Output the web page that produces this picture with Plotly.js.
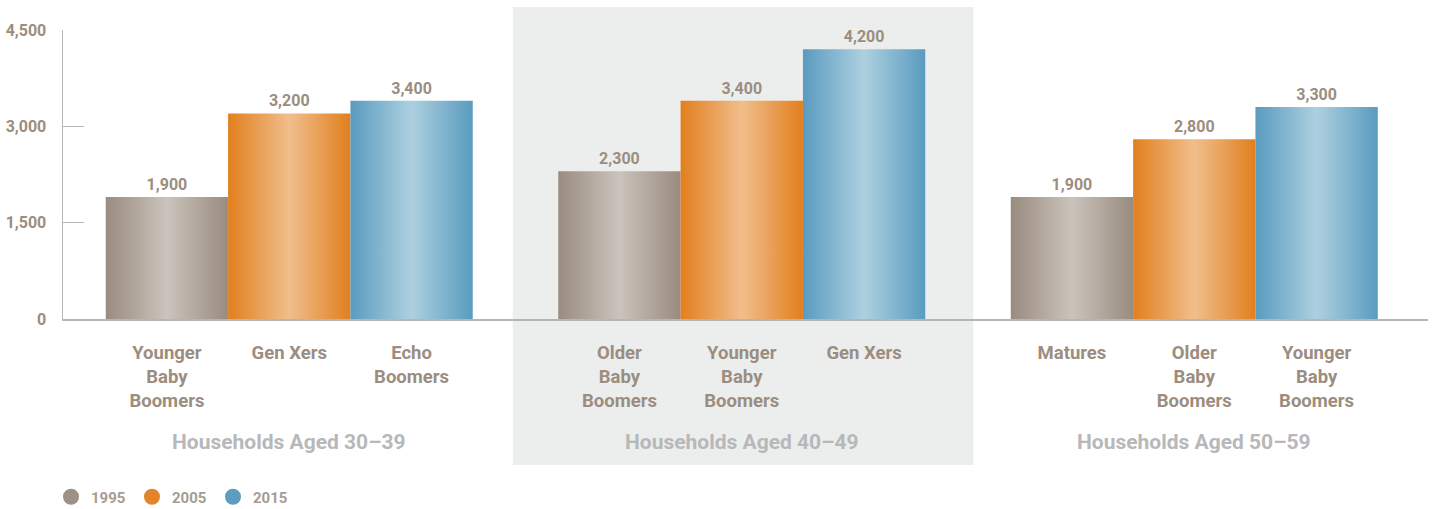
<!DOCTYPE html>
<html>
<head>
<meta charset="utf-8">
<script src="https://cdn.plot.ly/plotly-3.0.1.min.js"></script>
<style>
html,body{margin:0;padding:0;background:#fff;}
#chart{width:1432px;height:509px;}
</style>
</head>
<body>
<div id="chart"></div>
<script>
// ---- data ----
const groups = ['Households Aged 30\u201339', 'Households Aged 40\u201349', 'Households Aged 50\u201359'];
const years = ['1995', '2005', '2015'];
const values1995 = [1900, 2300, 1900];
const values2005 = [3200, 3400, 2800];
const values2015 = [3400, 4200, 3300];
const labels1995 = ['Younger<br>Baby<br>Boomers', 'Older<br>Baby<br>Boomers', 'Matures'];
const labels2005 = ['Gen Xers', 'Younger<br>Baby<br>Boomers', 'Older<br>Baby<br>Boomers'];
const labels2015 = ['Echo<br>Boomers', 'Gen Xers', 'Younger<br>Baby<br>Boomers'];
const yTickValues = [0, 1500, 3000, 4500];

// ---- styles ----
const FONT = 'Roboto, "DejaVu Sans Condensed", sans-serif';
const TEXT = '#9b8d80';
const AXIS = '#b5b5b5';
const seriesValues = [values1995, values2005, values2015];
const seriesLabels = [labels1995, labels2005, labels2015];
const solid = ['#9d9085', '#e4832a', '#5c9dc0'];
const grad = [
  ['#998b7f', '#cbc3bc', '#998b7f'],
  ['#e27f1e', '#f0be8c', '#e27f1e'],
  ['#5a9bbf', '#add0e0', '#5a9bbf']
];
const BARGAP = 0.189;
const barW = (1 - BARGAP) / 3;
const xPos = groups.map((g, i) => i);

const data = [];
seriesValues.forEach((vals, i) => {
  data.push({
    type: 'bar', name: years[i], x: xPos, y: vals,
    marker: {color: solid[i], line: {width: 0}},
    texttemplate: '%{y:,}', textposition: 'outside',
    textfont: {family: FONT, size: 16, color: TEXT, weight: 700},
    cliponaxis: false, showlegend: false, hoverinfo: 'skip'
  });
});
years.forEach((yr, i) => {
  data.push({
    type: 'scatter', mode: 'markers', name: yr, x: [null], y: [null],
    marker: {color: solid[i], size: 16, symbol: 'circle'}, showlegend: true, hoverinfo: 'skip'
  });
});

const tickvals = [], ticktext = [];
groups.forEach((g, gi) => {
  seriesLabels.forEach((labs, si) => {
    tickvals.push(xPos[gi] + (si - 1) * barW);
    ticktext.push(labs[gi]);
  });
});

const annotations = groups.map((g, gi) => ({
  text: g, x: xPos[gi], xref: 'x', y: -0.4256, yref: 'paper',
  xanchor: 'center', yanchor: 'middle', showarrow: false,
  font: {family: FONT, size: 21, color: '#b6b8ba', weight: 700}
}));

const layout = {
  width: 1432, height: 509,
  margin: {l: 63, r: 4, t: 30, b: 190, autoexpand: false},
  paper_bgcolor: '#ffffff', plot_bgcolor: 'rgba(0,0,0,0)',
  barmode: 'group', bargap: BARGAP, bargroupgap: 0,
  xaxis: {
    range: [-0.5, 2.5165], showgrid: false, zeroline: false,
    showline: true, linecolor: AXIS, linewidth: 2,
    tickmode: 'array', tickvals: tickvals, ticktext: ticktext,
    ticks: '', ticklabelstandoff: 16,
    tickfont: {family: FONT, size: 18.5, color: TEXT, weight: 700}
  },
  yaxis: {
    range: [0, 4500], showgrid: false, zeroline: false,
    showline: true, linecolor: AXIS, linewidth: 1.5,
    tickmode: 'array', tickvals: yTickValues, tickformat: ',',
    ticks: 'inside', ticklen: 21, tickwidth: 1.5, tickcolor: AXIS,
    ticklabelstandoff: 12,
    tickfont: {family: FONT, size: 16, color: TEXT, weight: 700}
  },
  shapes: [{
    type: 'rect', xref: 'x', yref: 'paper',
    x0: 0.494, x1: 1.512, y0: -0.505, y1: 1.08,
    fillcolor: '#eceeed', line: {width: 0}, layer: 'below'
  }],
  annotations: annotations,
  legend: {
    orientation: 'h', x: -0.0088, xanchor: 'left', y: -0.616, yanchor: 'middle',
    entrywidth: 36, entrywidthmode: 'pixels',
    font: {family: FONT, size: 15, color: '#a69c93', weight: 700},
    bgcolor: 'rgba(0,0,0,0)', itemclick: false, itemdoubleclick: false
  },
  showlegend: true, hovermode: false
};

Plotly.newPlot('chart', data, layout, {displayModeBar: false, staticPlot: true}).then(gd => {
  const svg = gd.querySelector('svg.main-svg');
  let defs = svg.querySelector('defs');
  const NS = 'http://www.w3.org/2000/svg';
  grad.forEach((stops, i) => {
    const lg = document.createElementNS(NS, 'linearGradient');
    lg.setAttribute('id', 'bargrad' + i);
    lg.setAttribute('x1', '0'); lg.setAttribute('x2', '1');
    lg.setAttribute('y1', '0'); lg.setAttribute('y2', '0');
    [[0, stops[0]], [0.5, stops[1]], [1, stops[2]]].forEach(([o, c]) => {
      const s = document.createElementNS(NS, 'stop');
      s.setAttribute('offset', o); s.setAttribute('stop-color', c);
      lg.appendChild(s);
    });
    defs.appendChild(lg);
  });
  gd.querySelectorAll('.barlayer .trace').forEach((t, i) => {
    t.querySelectorAll('.point path').forEach(p => { p.style.fill = 'url(#bargrad' + i + ')'; });
  });
});
</script>
</body>
</html>
